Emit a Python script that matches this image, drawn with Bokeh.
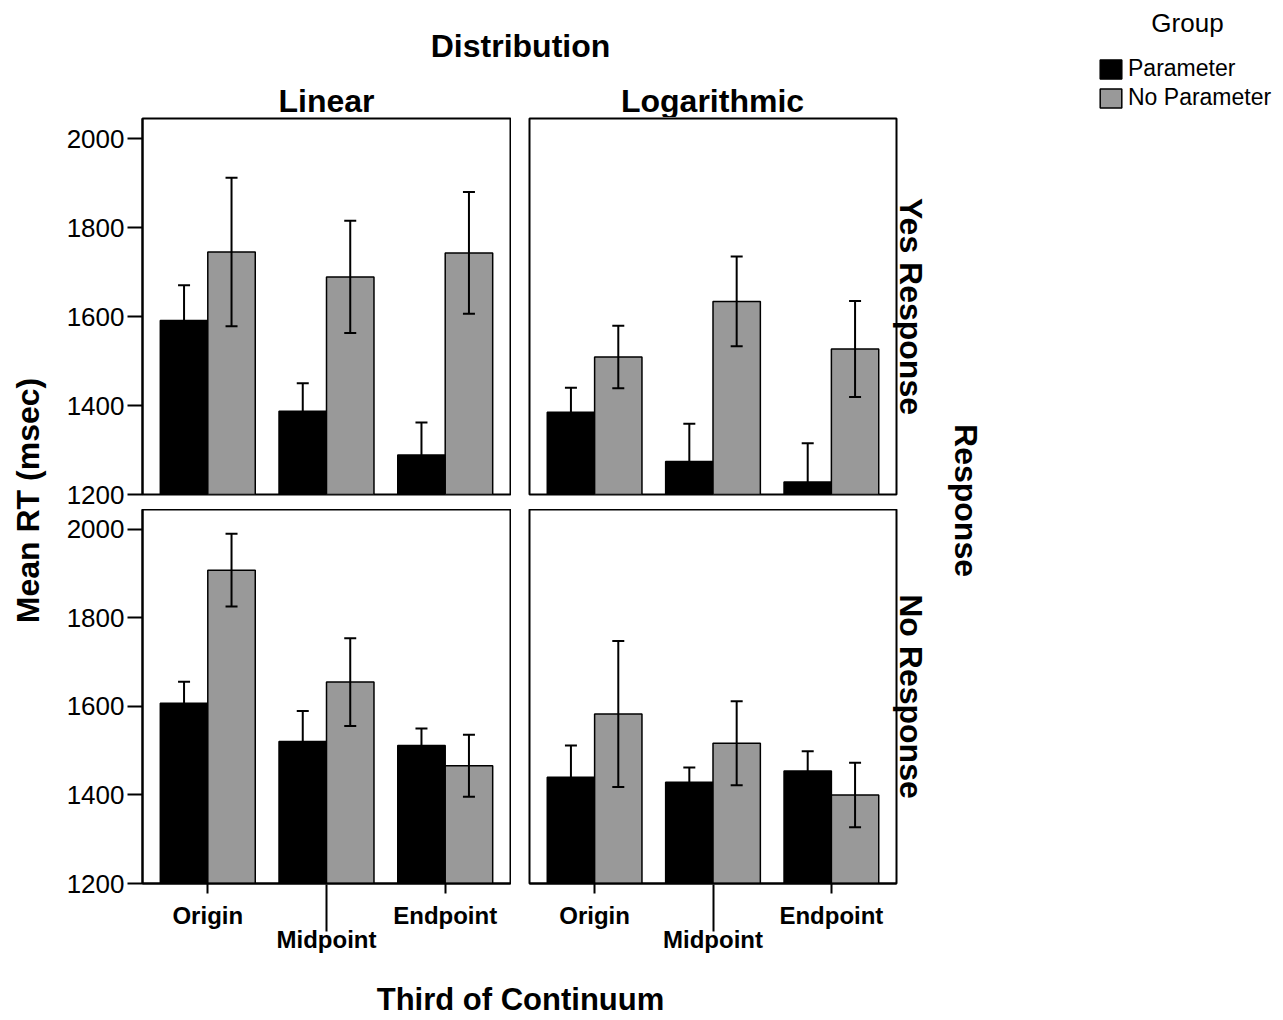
import math
from bokeh.plotting import figure
from bokeh.models import (ColumnDataSource, Range1d, LinearAxis, FixedTicker,
                          Whisker, TeeHead, Legend, LegendItem)
from bokeh.layouts import row, column
from bokeh.embed import file_html
from bokeh.resources import INLINE
from bokeh.core.properties import value

# ---------------- data ----------------
categories = ["Origin", "Midpoint", "Endpoint"]
group_labels = ["Parameter", "No Parameter"]
distributions = ["Linear", "Logarithmic"]
responses = ["Yes Response", "No Response"]
y_ticks = [1200, 1400, 1600, 1800, 2000]

# Yes Response / Linear
yes_lin_param = [1591, 1387, 1289]
yes_lin_param_err = [79, 63, 73]
yes_lin_noparam = [1745, 1689, 1743]
yes_lin_noparam_err = [167, 126, 137]
# Yes Response / Logarithmic
yes_log_param = [1385, 1274, 1228]
yes_log_param_err = [55, 85, 87]
yes_log_noparam = [1509, 1634, 1527]
yes_log_noparam_err = [70, 101, 108]
# No Response / Linear
no_lin_param = [1607, 1521, 1512]
no_lin_param_err = [49, 69, 38]
no_lin_noparam = [1908, 1655, 1466]
no_lin_noparam_err = [82, 99, 70]
# No Response / Logarithmic
no_log_param = [1440, 1429, 1454]
no_log_param_err = [72, 33, 45]
no_log_noparam = [1583, 1517, 1400]
no_log_noparam_err = [165, 95, 73]

FONT = "Liberation Sans"
GRAY = "#999999"
positions = [i + 1 for i in range(len(categories))]
BAR_W = 0.4


def panel(width, height, mbl, mbr, mbt, mbb, pm, pe, nm, ne, show_y, show_x,
          side_label=None):
    p = figure(width=width, height=height,
               x_range=Range1d(0.45, 3.55), y_range=Range1d(1200, 2045),
               x_axis_location=None,
               y_axis_location=("left" if show_y else None),
               toolbar_location=None, output_backend="svg",
               min_border_left=mbl, min_border_right=mbr,
               min_border_top=mbt, min_border_bottom=mbb)
    p.grid.visible = False
    p.outline_line_color = "black"
    p.outline_line_width = 2
    p.background_fill_color = "white"
    p.border_fill_color = "white"
    src = ColumnDataSource(dict(
        xp=[x - BAR_W / 2 for x in positions],
        xn=[x + BAR_W / 2 for x in positions],
        pm=pm, nm=nm,
        pu=[m + e for m, e in zip(pm, pe)], pl=[m - e for m, e in zip(pm, pe)],
        nu=[m + e for m, e in zip(nm, ne)], nl=[m - e for m, e in zip(nm, ne)],
    ))
    p.vbar(x="xp", top="pm", bottom=y_ticks[0], width=BAR_W, source=src,
           fill_color="black", line_color="black", line_width=1.5)
    p.vbar(x="xn", top="nm", bottom=y_ticks[0], width=BAR_W, source=src,
           fill_color=GRAY, line_color="black", line_width=1.5)
    for base, up, lo in (("xp", "pu", "pl"), ("xn", "nu", "nl")):
        w = Whisker(source=src, base=base, upper=up, lower=lo, dimension="height",
                    line_color="black", line_width=2, level="overlay",
                    upper_head=TeeHead(size=12, line_width=2, line_color="black"),
                    lower_head=TeeHead(size=12, line_width=2, line_color="black"))
        p.add_layout(w)
    if show_y:
        ax = p.yaxis[0]
        ax.ticker = FixedTicker(ticks=y_ticks)
        ax.major_label_text_font = FONT
        ax.major_label_text_font_size = "26px"
        ax.major_label_text_color = "black"
        ax.major_tick_out = 15
        ax.major_tick_in = 0
        ax.minor_tick_out = 0
        ax.minor_tick_in = 0
        ax.axis_line_width = 2
        ax.major_tick_line_width = 2
        ax.major_label_standoff = 3
    if show_x:
        outer = [positions[0], positions[2]]
        a1 = LinearAxis(ticker=FixedTicker(ticks=outer),
                        major_label_overrides={positions[0]: categories[0],
                                               positions[2]: categories[2]},
                        major_tick_out=10, major_tick_in=0,
                        minor_tick_out=0, minor_tick_in=0,
                        major_label_standoff=8,
                        axis_line_width=2, major_tick_line_width=2,
                        major_label_text_font=FONT,
                        major_label_text_font_style="bold",
                        major_label_text_font_size="24px",
                        major_label_text_color="black")
        p.add_layout(a1, "below")
        a2 = LinearAxis(ticker=FixedTicker(ticks=[positions[1]]),
                        major_label_overrides={positions[1]: categories[1]},
                        major_tick_out=0, major_tick_in=47,
                        minor_tick_out=0, minor_tick_in=0,
                        major_label_standoff=-6,
                        axis_line_color=None, major_tick_line_width=2,
                        major_label_text_font=FONT,
                        major_label_text_font_style="bold",
                        major_label_text_font_size="24px",
                        major_label_text_color="black")
        p.add_layout(a2, "below")
    if side_label is not None:
        ra = LinearAxis(ticker=FixedTicker(ticks=[]),
                        axis_line_color=None,
                        major_tick_out=0, major_tick_in=0,
                        minor_tick_out=0, minor_tick_in=0,
                        major_label_standoff=0,
                        axis_label=side_label,
                        axis_label_standoff=-4,
                        axis_label_text_font=FONT,
                        axis_label_text_font_style="bold",
                        axis_label_text_font_size="32px",
                        axis_label_text_color="black")
        p.add_layout(ra, "right")
    return p


def canvas(width, height, x0=0, y0=0):
    p = figure(width=width, height=height,
               x_range=Range1d(x0, x0 + width), y_range=Range1d(y0 + height, y0),
               x_axis_location=None, y_axis_location=None,
               toolbar_location=None, output_backend="svg", min_border=0)
    p.outline_line_color = None
    p.grid.visible = False
    p.background_fill_color = "white"
    p.border_fill_color = "white"
    return p


def txt(p, x, y, s, size="32px", style="bold", angle=0.0):
    p.text(x=[x], y=[y], text=[s], text_font=value(FONT), text_font_style=style,
           text_font_size=size, text_align="center", text_baseline="middle",
           text_color="black", angle=angle)


# ---------------- layout pieces ----------------
TL = panel(453, 392, 84, 1, 1, 15, yes_lin_param, yes_lin_param_err,
           yes_lin_noparam, yes_lin_noparam_err, True, False)
TR = panel(429, 392, 18, 44, 1, 15, yes_log_param, yes_log_param_err,
           yes_log_noparam, yes_log_noparam_err, False, False, responses[0])
BL = panel(453, 466, 84, 1, 0, 92, no_lin_param, no_lin_param_err,
           no_lin_noparam, no_lin_noparam_err, True, True)
BR = panel(429, 466, 18, 44, 0, 92, no_log_param, no_log_param_err,
           no_log_noparam, no_log_noparam_err, False, True, responses[1])
M_W = 453 + 429

header = canvas(M_W, 117, x0=58, y0=0)
txt(header, 520, 45, "Distribution")
txt(header, 326, 100, distributions[0])
txt(header, 712, 100, distributions[1])

footer = canvas(M_W, 45, x0=58, y0=975)
txt(footer, 520, 999, "Third of Continuum", size="31px")

L = canvas(58, 1020, x0=0, y0=0)
txt(L, 27, 500, "Mean RT (msec)", angle=math.pi / 2)

R = canvas(343, 1020, x0=940, y0=0)
txt(R, 965, 500, "Response", angle=-math.pi / 2)
txt(R, 1187, 22, "Group", size="26px", style="normal")
r1 = R.vbar(x=[positions[0]], top=[y_ticks[0]], width=BAR_W, fill_color="black",
            line_color="black", line_width=1.5, visible=False)
r2 = R.vbar(x=[positions[0]], top=[y_ticks[0]], width=BAR_W, fill_color=GRAY,
            line_color="black", line_width=1.5, visible=False)
legend = Legend(items=[LegendItem(label=group_labels[0], renderers=[r1]),
                       LegendItem(label=group_labels[1], renderers=[r2])],
                location=(157, 909), orientation="vertical",
                glyph_width=27, glyph_height=24, label_standoff=4, spacing=2,
                padding=0, margin=0, label_text_font=FONT,
                label_text_font_size="23px", label_text_color="black",
                border_line_color=None, background_fill_alpha=0)
R.add_layout(legend)

middle = column(header, row(TL, TR), row(BL, BR), footer)
page = row(L, middle, R)

open("out.html", "w").write(file_html(page, INLINE))
